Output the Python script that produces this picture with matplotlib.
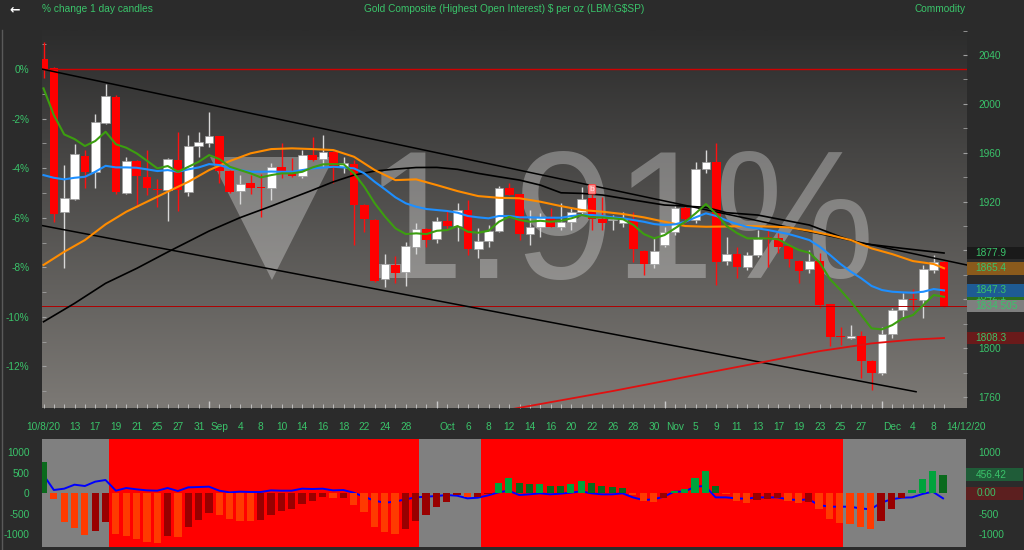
import matplotlib
matplotlib.use('Agg')
import matplotlib.pyplot as plt
from matplotlib.patches import Rectangle
from matplotlib.colors import LinearSegmentedColormap
from matplotlib.transforms import blended_transform_factory
from matplotlib.ticker import FuncFormatter, MultipleLocator
from matplotlib.lines import Line2D
import numpy as np
import pandas as pd

plt.rcParams['font.family'] = ['Liberation Sans', 'DejaVu Sans']
plt.rcParams['axes.unicode_minus'] = False

TXT = '#3ac36a'
BG = '#2b2b2b'
FS = 7.3

# trading days shown on the chart
dates = pd.bdate_range('2020-08-10', '2020-12-09')

opens = [2036.7, 2029.1, 1911.4, 1922.3, 1957.3, 1944.4, 1984.5, 2005.8, 1927.2, 1953.4,
         1940.3, 1930.5, 1929.7, 1953.8, 1928.1, 1965.7, 1968.2, 1973.4, 1945.3, 1928.9,
         1935.2, 1931.9, 1930.8, 1948.0, 1943.1, 1941.2, 1957.9, 1954.8, 1960.8, 1948.0,
         1950.7, 1917.2, 1904.9, 1856.4, 1868.0, 1862.1, 1883.0, 1897.5, 1889.1, 1904.1,
         1900.2, 1913.1, 1880.9, 1887.7, 1896.1, 1930.8, 1925.9, 1893.4, 1898.9, 1906.3,
         1898.9, 1903.5, 1911.2, 1922.6, 1905.5, 1904.9, 1902.2, 1904.9, 1879.8, 1868.9,
         1884.4, 1895.3, 1914.5, 1904.9, 1946.6, 1952.1, 1871.2, 1877.0, 1866.2, 1875.9,
         1890.7, 1889.9, 1883.6, 1871.6, 1864.5, 1871.6, 1836.1, 1809.9, 1808.3, 1809.9,
         1789.5, 1779.4, 1811.6, 1831.2, 1840.5, 1839.4, 1863.9, 1870.2]
highs = [2050.9, 2030.0, 1949.9, 1966.9, 1962.2, 1991.4, 2016.2, 2007.2, 1956.5, 1954.0,
         1962.2, 1938.5, 1955.5, 1977.2, 1974.5, 1977.2, 1993.1, 1974.0, 1945.8, 1941.7,
         1941.7, 1942.3, 1951.5, 1967.7, 1955.6, 1962.2, 1973.1, 1974.5, 1961.3, 1956.7,
         1954.0, 1918.0, 1905.5, 1877.0, 1875.7, 1887.1, 1902.2, 1898.0, 1907.6, 1913.1,
         1919.1, 1921.3, 1898.1, 1900.8, 1932.5, 1934.9, 1926.5, 1913.1, 1910.4, 1914.5,
         1918.6, 1914.5, 1932.1, 1926.7, 1924.0, 1909.0, 1911.7, 1911.7, 1880.5, 1889.9,
         1899.4, 1917.2, 1917.2, 1952.6, 1962.2, 1967.7, 1891.2, 1883.0, 1878.9, 1896.7,
         1896.7, 1894.0, 1884.0, 1872.0, 1880.3, 1877.6, 1836.5, 1817.5, 1818.9, 1814.3,
         1790.0, 1817.5, 1832.6, 1844.9, 1848.1, 1868.0, 1876.2, 1871.0]
lows = [2020.9, 1903.5, 1865.3, 1921.5, 1930.8, 1931.4, 1983.5, 1926.0, 1926.0, 1915.8,
        1925.4, 1915.8, 1904.3, 1912.5, 1924.8, 1956.7, 1964.9, 1934.9, 1927.0, 1917.8,
        1925.9, 1907.6, 1921.3, 1939.0, 1940.3, 1939.0, 1953.5, 1948.5, 1934.9, 1943.1,
        1884.4, 1895.3, 1854.5, 1849.8, 1853.6, 1851.1, 1877.0, 1883.0, 1885.8, 1896.7,
        1887.9, 1876.2, 1873.5, 1883.0, 1895.0, 1925.0, 1888.5, 1884.4, 1891.2, 1899.0,
        1896.7, 1896.7, 1909.0, 1896.7, 1896.7, 1896.7, 1899.4, 1870.7, 1859.9, 1865.3,
        1883.0, 1892.6, 1902.2, 1902.2, 1943.1, 1851.7, 1868.0, 1857.2, 1863.9, 1874.8,
        1866.7, 1877.6, 1866.7, 1853.1, 1861.7, 1832.6, 1801.7, 1802.6, 1807.5, 1775.3,
        1765.7, 1778.0, 1808.0, 1824.4, 1831.2, 1824.4, 1861.3, 1834.0]
closes = [2028.5, 1909.8, 1922.9, 1958.7, 1944.4, 1984.9, 2006.4, 1928.1, 1953.2, 1941.2,
          1930.8, 1929.4, 1954.6, 1929.2, 1965.5, 1968.7, 1973.4, 1945.3, 1928.1, 1934.4,
          1931.1, 1931.1, 1948.0, 1945.3, 1940.9, 1958.1, 1954.0, 1960.8, 1947.2, 1951.3,
          1917.2, 1905.5, 1855.2, 1868.6, 1861.7, 1883.6, 1897.5, 1888.5, 1904.3, 1900.2,
          1913.1, 1880.9, 1887.7, 1895.9, 1930.8, 1925.4, 1893.4, 1899.4, 1907.1, 1899.4,
          1903.0, 1911.7, 1922.1, 1905.5, 1902.2, 1905.3, 1905.5, 1880.9, 1868.9, 1879.8,
          1895.3, 1914.5, 1905.5, 1946.4, 1952.4, 1870.7, 1877.0, 1866.2, 1876.2, 1889.1,
          1889.1, 1883.0, 1872.7, 1863.4, 1871.6, 1835.3, 1809.3, 1808.9, 1809.9, 1789.7,
          1779.4, 1811.6, 1831.2, 1840.2, 1839.4, 1864.5, 1870.2, 1834.505]

# moving averages
ma_green = [2012.7, 1990.8, 1975.0, 1971.2, 1965.5, 1969.6, 1977.2, 1966.9, 1964.1, 1959.5,
            1953.4, 1947.2, 1949.1, 1944.4, 1948.5, 1952.6, 1958.1, 1954.8, 1948.5, 1945.8,
            1943.1, 1939.8, 1941.7, 1943.1, 1943.1, 1944.4, 1948.0, 1950.5, 1950.7, 1950.5,
            1943.1, 1932.1, 1918.6, 1907.6, 1898.1, 1893.4, 1894.0, 1893.4, 1896.1, 1896.7,
            1900.0, 1895.3, 1894.5, 1896.1, 1903.5, 1907.6, 1904.9, 1903.5, 1904.3, 1903.5,
            1904.3, 1906.3, 1909.0, 1907.1, 1907.1, 1906.3, 1905.5, 1900.8, 1893.4, 1889.9,
            1892.6, 1898.1, 1903.5, 1910.4, 1918.0, 1909.8, 1900.0, 1894.2, 1889.9, 1889.9,
            1889.9, 1889.1, 1884.4, 1880.3, 1878.1, 1869.9, 1856.3, 1847.6, 1838.0, 1827.1,
            1816.2, 1815.4, 1818.9, 1824.4, 1827.1, 1835.3, 1843.5, 1842.1]
ma_blue = [1941.7, 1939.5, 1938.2, 1939.5, 1940.3, 1944.4, 1949.3, 1948.0, 1948.0, 1947.7,
           1946.4, 1945.0, 1945.8, 1944.4, 1946.4, 1948.0, 1950.7, 1949.9, 1947.2, 1945.8,
           1944.4, 1944.4, 1944.6, 1944.4, 1944.4, 1945.8, 1947.2, 1947.9, 1948.5, 1948.0,
           1947.2, 1943.1, 1936.2, 1930.0, 1923.5, 1918.6, 1915.8, 1913.9, 1913.1, 1912.3,
           1910.9, 1908.2, 1907.1, 1906.3, 1908.2, 1908.2, 1907.1, 1907.1, 1906.8, 1906.8,
           1906.8, 1908.2, 1909.0, 1909.0, 1908.2, 1907.1, 1906.3, 1904.9, 1903.5, 1901.6,
           1900.8, 1901.4, 1903.5, 1907.1, 1910.4, 1908.2, 1904.5, 1901.6, 1899.2, 1898.1,
           1896.7, 1895.1, 1893.4, 1891.0, 1888.5, 1883.0, 1876.2, 1868.9, 1862.6, 1857.2,
           1850.9, 1847.6, 1846.2, 1845.7, 1845.4, 1846.2, 1848.4, 1847.3]
orange_idx = list(range(0, 88, 2)) + [87]
ma_orange = [1868.1, 1878.9, 1888.5, 1901.4, 1911.7, 1919.9, 1928.1, 1936.2, 1945.8, 1953.2,
             1959.5, 1963.0, 1963.6, 1963.0, 1962.2, 1956.7, 1945.8, 1937.6, 1938.2, 1933.5,
             1928.6, 1924.5, 1923.1, 1922.7, 1919.9, 1916.3, 1913.1, 1911.7, 1909.8, 1907.1,
             1903.5, 1900.0, 1899.4, 1899.6, 1900.0, 1899.6, 1898.9, 1896.1, 1892.6, 1888.5,
             1881.7, 1877.0, 1871.3, 1868.9, 1865.4]
black_idx = [0, 3, 6, 9, 12, 16, 19, 22, 24, 26, 28, 30, 32, 34, 36, 38, 40, 42, 44, 46,
             48, 50, 52, 54, 56, 58, 60, 62, 64, 66, 69, 74, 77, 79, 83, 87]
ma_black = [1821.6, 1836.7, 1853.1, 1865.3, 1878.7, 1895.9, 1906.9, 1916.3, 1922.9, 1929.4,
            1936.2, 1941.7, 1945.0, 1946.6, 1947.9, 1948.0, 1946.4, 1943.1, 1940.3, 1937.6,
            1933.5, 1927.2, 1926.7, 1925.4, 1922.6, 1919.9, 1917.2, 1916.3, 1915.3, 1910.9,
            1909.0, 1900.8, 1891.2, 1885.8, 1881.7, 1877.9]
red_idx = [45, 50, 55, 60, 65, 70, 75, 80, 84, 87]
ma_red = [1749.7, 1757.3, 1764.9, 1773.1, 1781.3, 1789.4, 1797.6, 1803.9, 1807.0, 1808.3]

# channel drawn on the chart (anchor index, price)
trend_upper_idx = [-0.15, 89.2]
trend_upper_price = [2028.5, 1868.1]
trend_lower_idx = [-0.15, 84.3]
trend_lower_price = [1900.4, 1764.3]

# lower indicator panel
hist_vals = [772, -146, -691, -854, -1016, -911, -699, -1000, -1041, -1106,
             -1179, -1203, -1041, -1057, -829, -650, -472, -537, -634, -667,
             -680, -650, -528, -439, -382, -260, -179, -89, -114, -106,
             -276, -447, -813, -935, -1000, -870, -667, -528, -325, -203,
             -49, -100, -90, -16, 244, 366, 260, 220, 228, 187,
             187, 228, 301, 244, 187, 146, 138, -30, -179, -203,
             -114, 65, 106, 366, 545, 187, -16, -187, -244, -171,
             -130, -125, -179, -244, -211, -382, -618, -724, -748, -813,
             -862, -667, -382, -114, 81, 350, 545, 456.42]
signal_vals = [447, 81, 114, 211, 179, 285, 325, 65, 130, 98,
               73, 65, 130, 57, 146, 154, 163, 65, 24, 41,
               33, 33, 73, 65, 65, 114, 106, 114, 73, 81,
               16, -81, -179, -228, -203, -146, -98, -81, -65, -41,
               -57, -122, -106, -49, 24, 65, -41, -24, 0, -24,
               -8, 16, 49, 0, -24, -24, 0, -98, -163, -146,
               -81, 41, 41, 163, 179, -98, -98, -122, -130, -98,
               -98, -98, -146, -163, -146, -285, -325, -325, -325, -366,
               -390, -228, -146, -106, -98, -16, 41, -122]
band_runs = [('n', 7), ('s', 30), ('n', 6), ('s', 35), ('n', 10)]

label_dates = ['2020-08-10', '2020-08-13', '2020-08-17', '2020-08-19', '2020-08-21', '2020-08-25',
               '2020-08-27', '2020-08-31', '2020-09-02', '2020-09-04', '2020-09-08', '2020-09-10',
               '2020-09-14', '2020-09-16', '2020-09-18', '2020-09-22', '2020-09-24', '2020-09-28',
               '2020-10-02', '2020-10-06', '2020-10-08', '2020-10-12', '2020-10-14', '2020-10-16',
               '2020-10-20', '2020-10-22', '2020-10-26', '2020-10-28', '2020-10-30', '2020-11-03',
               '2020-11-05', '2020-11-09', '2020-11-11', '2020-11-13', '2020-11-17', '2020-11-19',
               '2020-11-23', '2020-11-25', '2020-11-27', '2020-12-02', '2020-12-04', '2020-12-08']
label_texts = ['10/8/20', '13', '17', '19', '21', '25', '27', '31', 'Sep', '4', '8', '10',
               '14', '16', '18', '22', '24', '28', 'Oct', '6', '8', '12', '14', '16',
               '20', '22', '26', '28', '30', 'Nov', '5', '9', '11', '13', '17', '19',
               '23', '25', '27', 'Dec', '4', '8']
month_starts = ['2020-09-01', '2020-10-01', '2020-11-02', '2020-12-01']
price_ticks = [1760, 1800, 1840, 1880, 1920, 1960, 2000, 2040]
price_labels = ['1760', '1800', '', '', '1920', '1960', '2000', '2040']
pct_ticks = [0, -2, -4, -6, -8, -10, -12]

x = np.arange(len(dates))
o, h, l, c = map(np.array, (opens, highs, lows, closes))
XMAX = 89.22

fig = plt.figure(figsize=(10.24, 5.5), dpi=100, facecolor=BG)
ax = fig.add_axes([42 / 1024, 142 / 550, 925 / 1024, 378 / 550])
ax2 = fig.add_axes([42 / 1024, 3.3 / 550, 924 / 1024, 107.4 / 550])

# ---- main price panel ----
ax.set_facecolor(BG)
bg_cmap = LinearSegmentedColormap.from_list('bg', ['#7c7975', '#2c2c2c'])
ax.imshow(np.linspace(0, 1, 256).reshape(-1, 1), cmap=bg_cmap, aspect='auto',
          extent=[0, 1, 0, 1], origin='lower', transform=ax.transAxes, zorder=0)

# big last-day change watermark
chg = (c[-1] / c[-2] - 1) * 100
ax.fill([0.1816, 0.3157, 0.2486], [0.664, 0.664, 0.3386], transform=ax.transAxes,
        color='white', alpha=0.3, lw=0, zorder=1)
ax.text(0.347, 0.344, f'{abs(chg):.2f}%', transform=ax.transAxes, fontsize=130,
        color='white', alpha=0.3, va='baseline', ha='left', zorder=1)

up = c >= o
body_lo = np.minimum(o, c)
body_h = np.maximum(np.abs(c - o), 1.0)
ax.vlines(x[up], l[up], h[up], color='#d8d8d8', lw=1, zorder=3)
ax.vlines(x[~up], l[~up], h[~up], color='#ff1010', lw=1, zorder=3)
ax.bar(x[up], body_h[up], bottom=body_lo[up], width=0.84, color='white',
       edgecolor='#9a9a9a', lw=0.5, zorder=4)
ax.bar(x[~up], body_h[~up], bottom=body_lo[~up], width=0.84, color='#ff0000', lw=0, zorder=4)

ax.text(53, h[53] + 0.5, 'b', ha='center', va='bottom', fontsize=6, color='#fff0f0', zorder=6,
        bbox=dict(boxstyle='round,pad=0.15', fc='#ff8a8a', ec='#ff4040', lw=0.6))

ax.axhline(c[0], color='#d00000', lw=1, zorder=5)
ax.axhline(c[-1], color='#b00000', lw=0.7, zorder=5)
ax.plot(trend_upper_idx, trend_upper_price, color='black', lw=1.1, zorder=5)
ax.plot(trend_lower_idx, trend_lower_price, color='black', lw=1.1, zorder=5)
ax.plot(black_idx, ma_black, color='black', lw=1.2, zorder=5)
ax.plot(red_idx, ma_red, color='#e01010', lw=1.3, zorder=5)
ax.plot(orange_idx, ma_orange, color='#ff8c00', lw=1.5, zorder=5)
ax.plot(x, ma_blue, color='#1e8fff', lw=1.5, zorder=5)
ax.plot(x, ma_green, color='#3c9e10', lw=1.5, zorder=5)

ax.set_xlim(-0.145, XMAX)
ax.set_ylim(1751.0, 2060.5)
for s in ax.spines.values():
    s.set_visible(False)

# right price scale
ax.yaxis.tick_right()
ax.set_yticks(price_ticks)
ax.set_yticklabels(price_labels)
ax.yaxis.set_minor_locator(MultipleLocator(20))
ax.tick_params(axis='y', which='both', direction='in', length=3, color='#a0a0a0',
               labelcolor=TXT, labelsize=FS, pad=8)

# left percent scale
base = c[0]
pct_ax = ax.secondary_yaxis('left', functions=(lambda p: (p / base - 1) * 100,
                                               lambda q: base * (1 + q / 100)))
pct_ax.set_yticks(pct_ticks)
pct_ax.yaxis.set_major_formatter(FuncFormatter(lambda v, _: f'{v:.0f}%'))
pct_ax.yaxis.set_minor_locator(MultipleLocator(1))
pct_ax.tick_params(which='both', direction='in', length=3, color='#a0a0a0',
                   labelcolor=TXT, labelsize=FS, pad=9)
for s in pct_ax.spines.values():
    s.set_visible(False)

# dates
label_pos = [dates.get_loc(pd.Timestamp(d)) for d in label_dates]
ax.xaxis.remove_overlapping_locs = False
ax.set_xticks(label_pos + [89.15])
ax.set_xticklabels(label_texts + ['14/12/20'])
ax.set_xticks(x, minor=True)
ax.tick_params(axis='x', which='major', length=0, pad=10, labelcolor=TXT, labelsize=FS)
ax.tick_params(axis='x', which='minor', direction='in', length=3, color='#c8c8c8')
month_pos = [dates.get_loc(pd.Timestamp(d)) for d in month_starts]
ax.vlines(month_pos, 0, 0.018, transform=blended_transform_factory(ax.transData, ax.transAxes),
          color='#c8c8c8', lw=1, zorder=2)

# value boxes on the right scale
tr = blended_transform_factory(ax.transAxes, ax.transData)
boxes = [(ma_green[-1], '#2d6e1e', f'{ma_green[-1]:.1f}'),
         (ma_black[-1], '#1a1a1a', f'{ma_black[-1]:.1f}'),
         (ma_orange[-1], '#8a5a1c', f'{ma_orange[-1]:.1f}'),
         (ma_blue[-1], '#1e5b94', f'{ma_blue[-1]:.1f}'),
         (c[-1], '#7f7f7f', f'{c[-1]:.3f}'),
         (ma_red[-1], '#6a1a1a', f'{ma_red[-1]:.1f}')]
for k, (v, fc, txt) in enumerate(boxes):
    ax.add_patch(Rectangle((1.0, v - 5.3), 0.062, 10.6, transform=tr, fc=fc, lw=0,
                           clip_on=False, zorder=10 + 2 * k))
    ax.text(1.009, v, txt, transform=tr, va='center', ha='left', color=TXT, fontsize=FS,
            clip_on=False, zorder=11 + 2 * k)

# ---- lower indicator panel ----
ax2.set_facecolor(BG)
ax2.set_xlim(-0.145, XMAX)
ax2.set_ylim(-1300, 1317)
start = 0
for k, (state, n) in enumerate(band_runs):
    left = start - 0.64
    right = XMAX if k == len(band_runs) - 1 else start + n - 0.64
    ax2.axvspan(left, right, color='#808080' if state == 'n' else '#ff0000', lw=0, zorder=0)
    start += n

hist = np.array(hist_vals, dtype=float)
d = np.diff(hist, prepend=hist[0])
bar_colors = np.where(hist >= 0, np.where(d > 0, '#00a33c', '#0a6a1c'),
                      np.where(d < 0, '#ff3a00', '#990000'))
ax2.plot(x, signal_vals, color='#0000ff', lw=1.4, zorder=2)
ax2.bar(x, hist, width=0.7, color=bar_colors, lw=0, zorder=3)

ax2.set_xticks([])
ax2.set_yticks([1000, 500, 0, -500, -1000])
ax2.tick_params(axis='y', length=0, pad=9, labelcolor=TXT, labelsize=FS)
for s in ax2.spines.values():
    s.set_visible(False)
sec2 = ax2.secondary_yaxis('right')
sec2.set_yticks([1000, -500, -1000])
sec2.tick_params(length=0, pad=9, labelcolor=TXT, labelsize=FS)
for s in sec2.spines.values():
    s.set_visible(False)

tr2 = blended_transform_factory(ax2.transAxes, ax2.transData)
for v, fc, txt in [(hist[-1], '#1f5c38', f'{hist[-1]:.2f}'), (0, '#5c1f1f', '0.00')]:
    ax2.add_patch(Rectangle((1.0, v - 150), 0.062, 300, transform=tr2, fc=fc, lw=0,
                            clip_on=False, zorder=10))
    ax2.text(1.011, v, txt, transform=tr2, va='center', ha='left', color=TXT, fontsize=FS,
             clip_on=False, zorder=11)

# ---- header ----
hy = 1 - 9.5 / 550
fig.text(15 / 1024, hy, '\u2190', color='white', fontsize=9, fontweight='bold',
         ha='center', va='center', family='DejaVu Sans')
fig.text(42 / 1024, hy, '% change 1 day candles', color=TXT, fontsize=FS, ha='left', va='center')
fig.text(504 / 1024, hy, r'Gold Composite (Highest Open Interest) \$ per oz (LBM:G\$SP)',
         color=TXT, fontsize=FS, ha='center', va='center')
fig.text(966 / 1024, hy, 'Commodity', color=TXT, fontsize=FS, ha='right', va='center')
fig.add_artist(Line2D([0.0015, 0.0015], [0, 0.945], color='#5a5a5a', lw=1))

fig.savefig('out.png', dpi=100, facecolor=BG)
